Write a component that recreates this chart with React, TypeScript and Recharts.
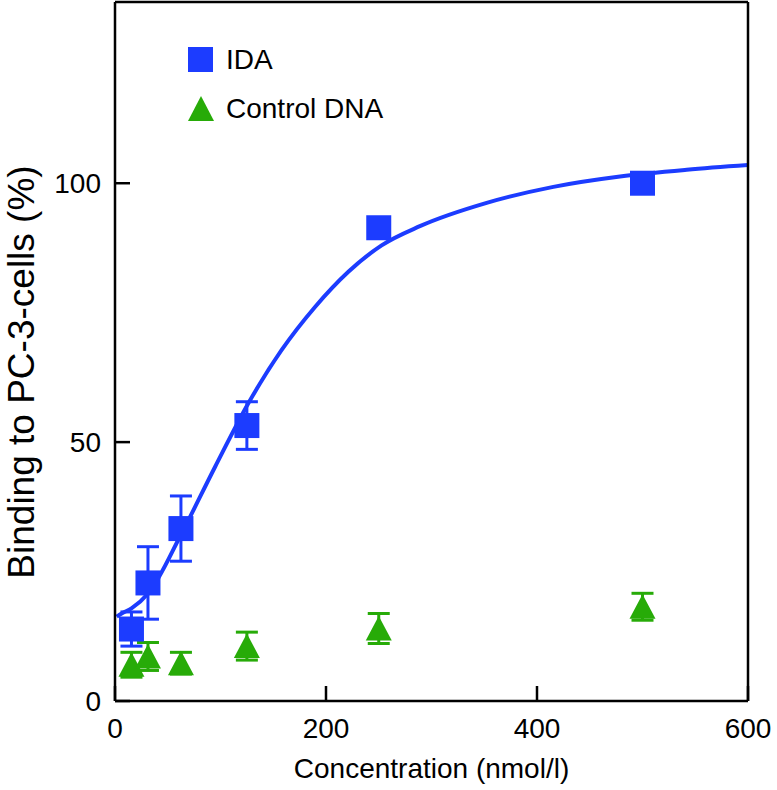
import {
    ComposedChart,
    Scatter,
    Line,
    XAxis,
    YAxis,
    ErrorBar,
    Label,
} from "recharts";

const BLUE = "#1c3cff";
const GREEN = "#27ab08";
const FONT = "'Liberation Sans', Arial, Helvetica, sans-serif";

// concentrations (nmol/l)
const concentrations = [15.6, 31.25, 62.5, 125, 250, 500];
// binding (%) with error (±)
const idaValues = [13.9, 22.8, 33.3, 53.2, 91.4, 100];
const idaErrors = [3.3, 7.0, 6.3, 4.6, 1.5, 1.0];
const controlValues = [7.0, 8.6, 7.3, 10.6, 14.0, 18.2];
const controlErrors = [2.4, 2.7, 2.1, 2.7, 2.9, 2.6];

// fitted curve
const fitX = [1.6, 6.3, 15.6, 31.6, 63.2, 94.8, 126.4, 158, 189.6, 221.2, 252.7, 289, 352.3, 415.5, 478.7, 541.9, 600];
const fitY = [16.3, 16.9, 17.9, 20.8, 32.4, 45.2, 57.5, 67.8, 76.1, 82.9, 88.0, 91.7, 96.2, 99.3, 101.3, 102.6, 103.5];

const xTicks = [0, 200, 400, 600];
const yTicks = [0, 50, 100];

const idaData = concentrations.map((x, i) => ({ x, y: idaValues[i], err: idaErrors[i] }));
const controlData = concentrations.map((x, i) => ({ x, y: controlValues[i], err: controlErrors[i] }));
const fitData = fitX.map((x, i) => ({ x, y: fitY[i] }));

const axisStyle = { stroke: "#000", strokeWidth: 2.5 };
const textStyle = { fontSize: 28, fontFamily: FONT, fill: "#000" };

const SquareDot = (props: any) => {
    const { cx, cy } = props;
    return <rect x={cx - 12.5} y={cy - 12.5} width={25} height={25} fill={BLUE} />;
};

const TriangleDot = (props: any) => {
    const { cx, cy } = props;
    return <polygon points={`${cx},${cy - 12.5} ${cx + 13},${cy + 12} ${cx - 13},${cy + 12}`} fill={GREEN} />;
};

// ticks point inward (tickSize -15), so labels are pushed back outside
const LeftTick = (props: any) => {
    const { x, y, payload } = props;
    return (
        <text x={x - 29} y={y} textAnchor="end" dominantBaseline="central" {...textStyle}>
            {payload.value}
        </text>
    );
};

const BottomTick = (props: any) => {
    const { x, y, payload } = props;
    return (
        <text x={x} y={y + 42} textAnchor="middle" dominantBaseline="central" {...textStyle}>
            {payload.value}
        </text>
    );
};

const LegendBox = () => (
    <div style={{ position: "absolute", left: 188, top: 47, fontFamily: FONT, fontSize: 28, color: "#000", lineHeight: 1 }}>
        <div style={{ display: "flex", alignItems: "center", height: 25, marginBottom: 24 }}>
            <svg width={25} height={25} style={{ marginRight: 13 }}>
                <rect x={0} y={0} width={25} height={25} fill={BLUE} />
            </svg>
            <span>IDA</span>
        </div>
        <div style={{ display: "flex", alignItems: "center", height: 25 }}>
            <svg width={26} height={25} style={{ marginRight: 12 }}>
                <polygon points="13,0 26,25 0,25" fill={GREEN} />
            </svg>
            <span>Control DNA</span>
        </div>
    </div>
);

export default function App() {
    return (
        <div style={{ position: "absolute", left: 0, top: 0, width: 777, height: 790, background: "#fff" }}>
            <ComposedChart width={777} height={790} margin={{ top: 1, right: 28, left: 0, bottom: 0 }}>
                <XAxis
                    dataKey="x"
                    type="number"
                    domain={[0, 600]}
                    ticks={xTicks}
                    height={89}
                    tickSize={-15}
                    tickMargin={0}
                    tickLine={axisStyle}
                    tick={<BottomTick />}
                    axisLine={axisStyle}
                    allowDataOverflow
                >
                    <Label
                        content={(p: any) => {
                            const vb = p.viewBox;
                            return (
                                <text x={vb.x + vb.width / 2} y={vb.y + 67} textAnchor="middle" dominantBaseline="central" {...textStyle}>
                                    Concentration (nmol/l)
                                </text>
                            );
                        }}
                    />
                </XAxis>
                <XAxis
                    xAxisId="top"
                    orientation="top"
                    dataKey="x"
                    type="number"
                    domain={[0, 600]}
                    height={1}
                    tick={false}
                    tickLine={false}
                    axisLine={axisStyle}
                />
                <YAxis
                    type="number"
                    domain={[0, 135]}
                    ticks={yTicks}
                    width={115}
                    tickSize={-15}
                    tickMargin={0}
                    tickLine={axisStyle}
                    tick={<LeftTick />}
                    axisLine={axisStyle}
                    allowDataOverflow
                >
                    <Label
                        content={() => {
                            const cx = 21;
                            const cy = 372;
                            return (
                                <text
                                    x={cx}
                                    y={cy}
                                    transform={`rotate(-90, ${cx}, ${cy})`}
                                    textAnchor="middle"
                                    dominantBaseline="central"
                                    fontSize={37}
                                    fontFamily={FONT}
                                    fill="#000"
                                >
                                    Binding to PC-3-cells (%)
                                </text>
                            );
                        }}
                    />
                </YAxis>
                <YAxis
                    yAxisId="right"
                    orientation="right"
                    type="number"
                    domain={[0, 135]}
                    ticks={yTicks}
                    width={1}
                    tickSize={-15}
                    tickMargin={0}
                    tickLine={axisStyle}
                    tick={false}
                    axisLine={axisStyle}
                />
                <Line
                    data={fitData}
                    dataKey="y"
                    type="monotone"
                    stroke={BLUE}
                    strokeWidth={4}
                    dot={false}
                    activeDot={false}
                    legendType="none"
                    isAnimationActive={false}
                />
                <Scatter data={idaData} dataKey="y" name="IDA" fill={BLUE} shape={<SquareDot />} isAnimationActive={false}>
                    <ErrorBar dataKey="err" direction="y" width={11} stroke={BLUE} strokeWidth={3} isAnimationActive={false} />
                </Scatter>
                <Scatter data={controlData} dataKey="y" name="Control DNA" fill={GREEN} shape={<TriangleDot />} isAnimationActive={false}>
                    <ErrorBar dataKey="err" direction="y" width={11} stroke={GREEN} strokeWidth={3} isAnimationActive={false} />
                </Scatter>
            </ComposedChart>
            <LegendBox />
        </div>
    );
}
